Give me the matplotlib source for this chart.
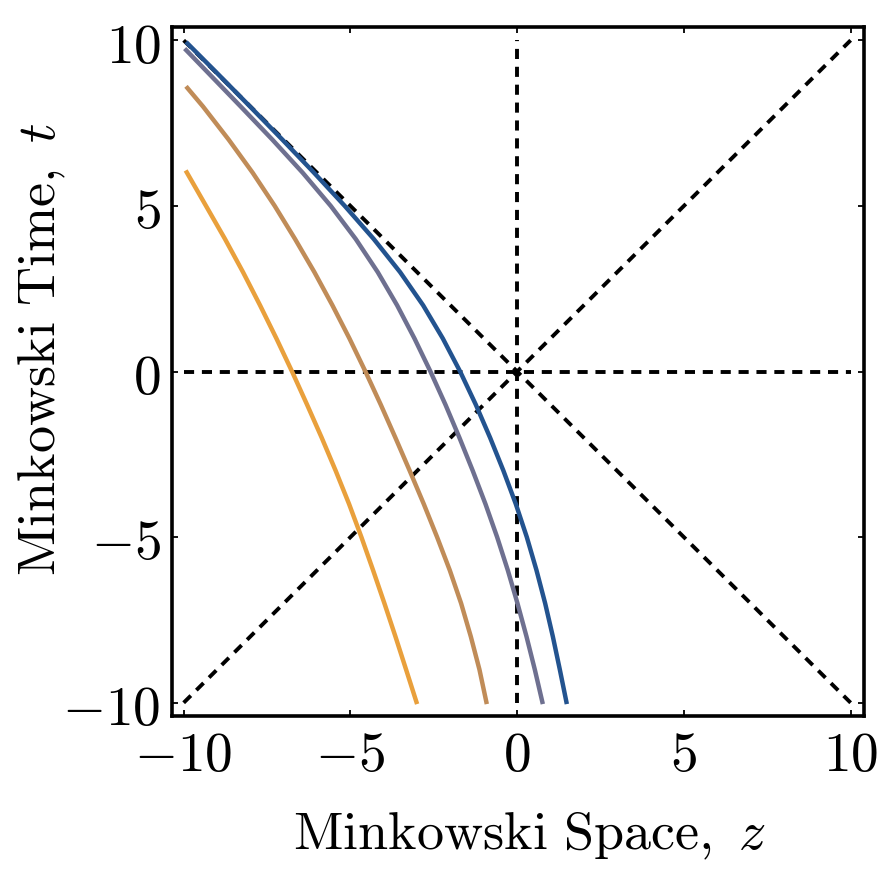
import matplotlib
matplotlib.use("Agg")
from matplotlib import pyplot as plt

# worldlines: (t, z) pairs
blue_t = [9.95, 9, 8, 7, 6, 5, 4, 3, 2, 1, 0, -1, -2, -3, -4, -5, -6, -7, -8, -9, -10.04]
blue_z = [-9.93, -8.99, -8.01, -7.04, -6.09, -5.17, -4.30, -3.51, -2.82, -2.23, -1.71,
          -1.24, -0.81, -0.41, -0.04, 0.29, 0.58, 0.84, 1.07, 1.28, 1.49]

gray_t = [9.75, 9, 8, 7, 6, 5, 4, 3, 2, 1, 0, -1, -2, -3, -4, -5, -6, -7, -8, -9, -10.04]
gray_z = [-9.97, -9.25, -8.29, -7.34, -6.43, -5.59, -4.84, -4.18, -3.6, -3.08, -2.6,
          -2.15, -1.73, -1.33, -0.95, -0.6, -0.28, 0.01, 0.28, 0.53, 0.77]

brown_t = [8.61, 8, 7, 6, 5, 4, 3, 2, 1, 0, -1, -2, -3, -4, -5, -6, -7, -8, -9, -10.04]
brown_z = [-9.93, -9.42, -8.65, -7.93, -7.27, -6.66, -6.08, -5.54, -5.03, -4.55,
           -4.09, -3.65, -3.22, -2.80, -2.40, -2.02, -1.68, -1.39, -1.13, -0.91]

orange_t = [6.07, 5, 4, 3, 2, 1, 0, -1, -2, -3, -4, -5, -6, -7, -8, -9, -10.04]
orange_z = [-9.94, -9.33, -8.76, -8.22, -7.71, -7.22, -6.75, -6.3, -5.86, -5.44, -5.04,
            -4.67, -4.32, -3.98, -3.65, -3.33, -3.0]

curve_colors = ["#23538f", "#6e7090", "#c08c58", "#e9a03c"]

ticks = [-10, -5, 0, 5, 10]
tick_labels = [r"$-10$", r"$-5$", r"$0$", r"$5$", r"$10$"]
span = [-10, 10]


def main():
    plt.rcParams["mathtext.fontset"] = "cm"
    plt.rcParams["font.family"] = ["DejaVu Serif"]

    fig = plt.figure(figsize=(8.93, 8.79), dpi=100)
    ax = fig.add_axes([0.1926, 0.1843, 0.9675 - 0.1926, 0.9681 - 0.1843])

    dash = (0, (2.6, 2.0))
    ax.plot(span, span, color="black", lw=2.8, linestyle=dash)
    ax.plot(span, [-v for v in span], color="black", lw=2.8, linestyle=dash)
    ax.plot([0, 0], span, color="black", lw=2.8, linestyle=dash)
    ax.plot(span, [0, 0], color="black", lw=2.8, linestyle=dash)

    curves = [(blue_z, blue_t), (gray_z, gray_t), (brown_z, brown_t), (orange_z, orange_t)]
    for (z, t), c in zip(curves, curve_colors):
        ax.plot(z, t, color=c, lw=3.2, solid_capstyle="butt", solid_joinstyle="round")

    ax.set_xlim(-10.35, 10.4)
    ax.set_ylim(-10.4, 10.4)
    ax.set_xticks(ticks)
    ax.set_xticklabels(tick_labels)
    ax.set_yticks(ticks)
    ax.set_yticklabels(tick_labels)
    ax.tick_params(direction="in", length=4, width=1.3, top=True, right=True,
                   labelsize=40, pad=8)
    for s in ax.spines.values():
        s.set_linewidth(2.6)

    ax.set_xlabel(r"$\mathrm{Minkowski\ Space,}\ z$", fontsize=39)
    ax.set_ylabel(r"$\mathrm{Minkowski\ Time,}\ t$", fontsize=39)
    ax.xaxis.set_label_coords(0.517, -0.135)
    ax.yaxis.set_label_coords(-0.15, 0.534)

    fig.savefig("out.png", dpi=100)


if __name__ == "__main__":
    main()
